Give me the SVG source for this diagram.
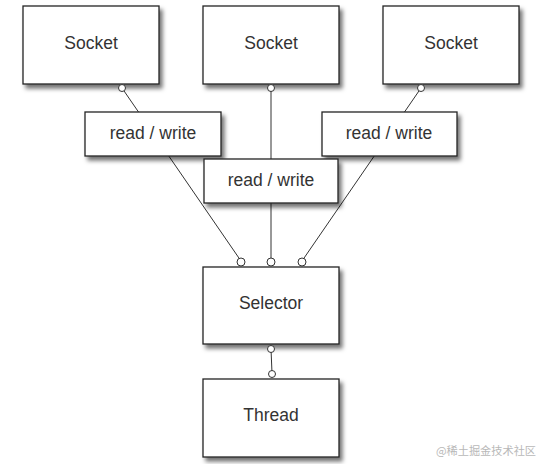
<svg xmlns="http://www.w3.org/2000/svg" width="541" height="464" viewBox="0 0 541 464">
<defs>
<filter id="sh" x="-10%" y="-10%" width="130%" height="140%">
<feDropShadow dx="3" dy="4" stdDeviation="2.2" flood-color="#000" flood-opacity="0.55"/>
</filter>
<style>
.box{fill:#fff;stroke:#222;stroke-width:1.3;filter:url(#sh)}
.t{font-family:"Liberation Sans",Arial,sans-serif;fill:#333;text-anchor:middle;dominant-baseline:central}
.big{font-size:17.5px}
.mid{font-size:17.5px}
.ln{stroke:#333;stroke-width:1;fill:none}
.c{fill:#fff;stroke:#333;stroke-width:1}
.wm{font-family:"Noto Sans CJK SC",sans-serif;font-size:11px;fill:#b8b8b8}
</style>
</defs>
<rect width="541" height="464" fill="#fff"/>
<g id="connectors">
<line class="ln" x1="122" y1="88" x2="241" y2="261"/>
<line class="ln" x1="271" y1="88" x2="271" y2="261"/>
<line class="ln" x1="421" y1="88" x2="302" y2="261"/>
<line class="ln" x1="271" y1="349" x2="272" y2="373"/>
</g>
<g id="socket1"><rect class="box" x="23" y="6" width="136" height="78"/><text class="t big" x="91" y="43">Socket</text></g>
<g id="socket2"><rect class="box" x="203" y="6" width="136" height="78"/><text class="t big" x="271" y="43">Socket</text></g>
<g id="socket3"><rect class="box" x="383" y="6" width="136" height="78"/><text class="t big" x="451" y="43">Socket</text></g>
<g id="rw1"><rect class="box" x="85" y="112" width="136" height="44"/><text class="t mid" x="153" y="133">read / write</text></g>
<g id="rw3"><rect class="box" x="322" y="112" width="135" height="44"/><text class="t mid" x="389" y="133">read / write</text></g>
<g id="rw2"><rect class="box" x="204" y="159" width="134" height="44"/><text class="t mid" x="271" y="180">read / write</text></g>
<g id="selector"><rect class="box" x="203" y="267" width="136" height="77"/><text class="t big" x="271" y="303">Selector</text></g>
<g id="thread"><rect class="box" x="203" y="379" width="136" height="78"/><text class="t big" x="271" y="415">Thread</text></g>
<g id="ends">
<circle class="c" cx="122" cy="88" r="3.5"/>
<circle class="c" cx="271" cy="88" r="3.5"/>
<circle class="c" cx="421" cy="88" r="3.5"/>
<circle class="c" cx="241" cy="262" r="4"/>
<circle class="c" cx="271" cy="262" r="4"/>
<circle class="c" cx="302" cy="262" r="4"/>
<circle class="c" cx="271" cy="349" r="3.5"/>
<circle class="c" cx="272" cy="374" r="3.5"/>
</g>
<text class="wm" x="436" y="455" textLength="100" lengthAdjust="spacingAndGlyphs">@稀土掘金技术社区</text>
</svg>
